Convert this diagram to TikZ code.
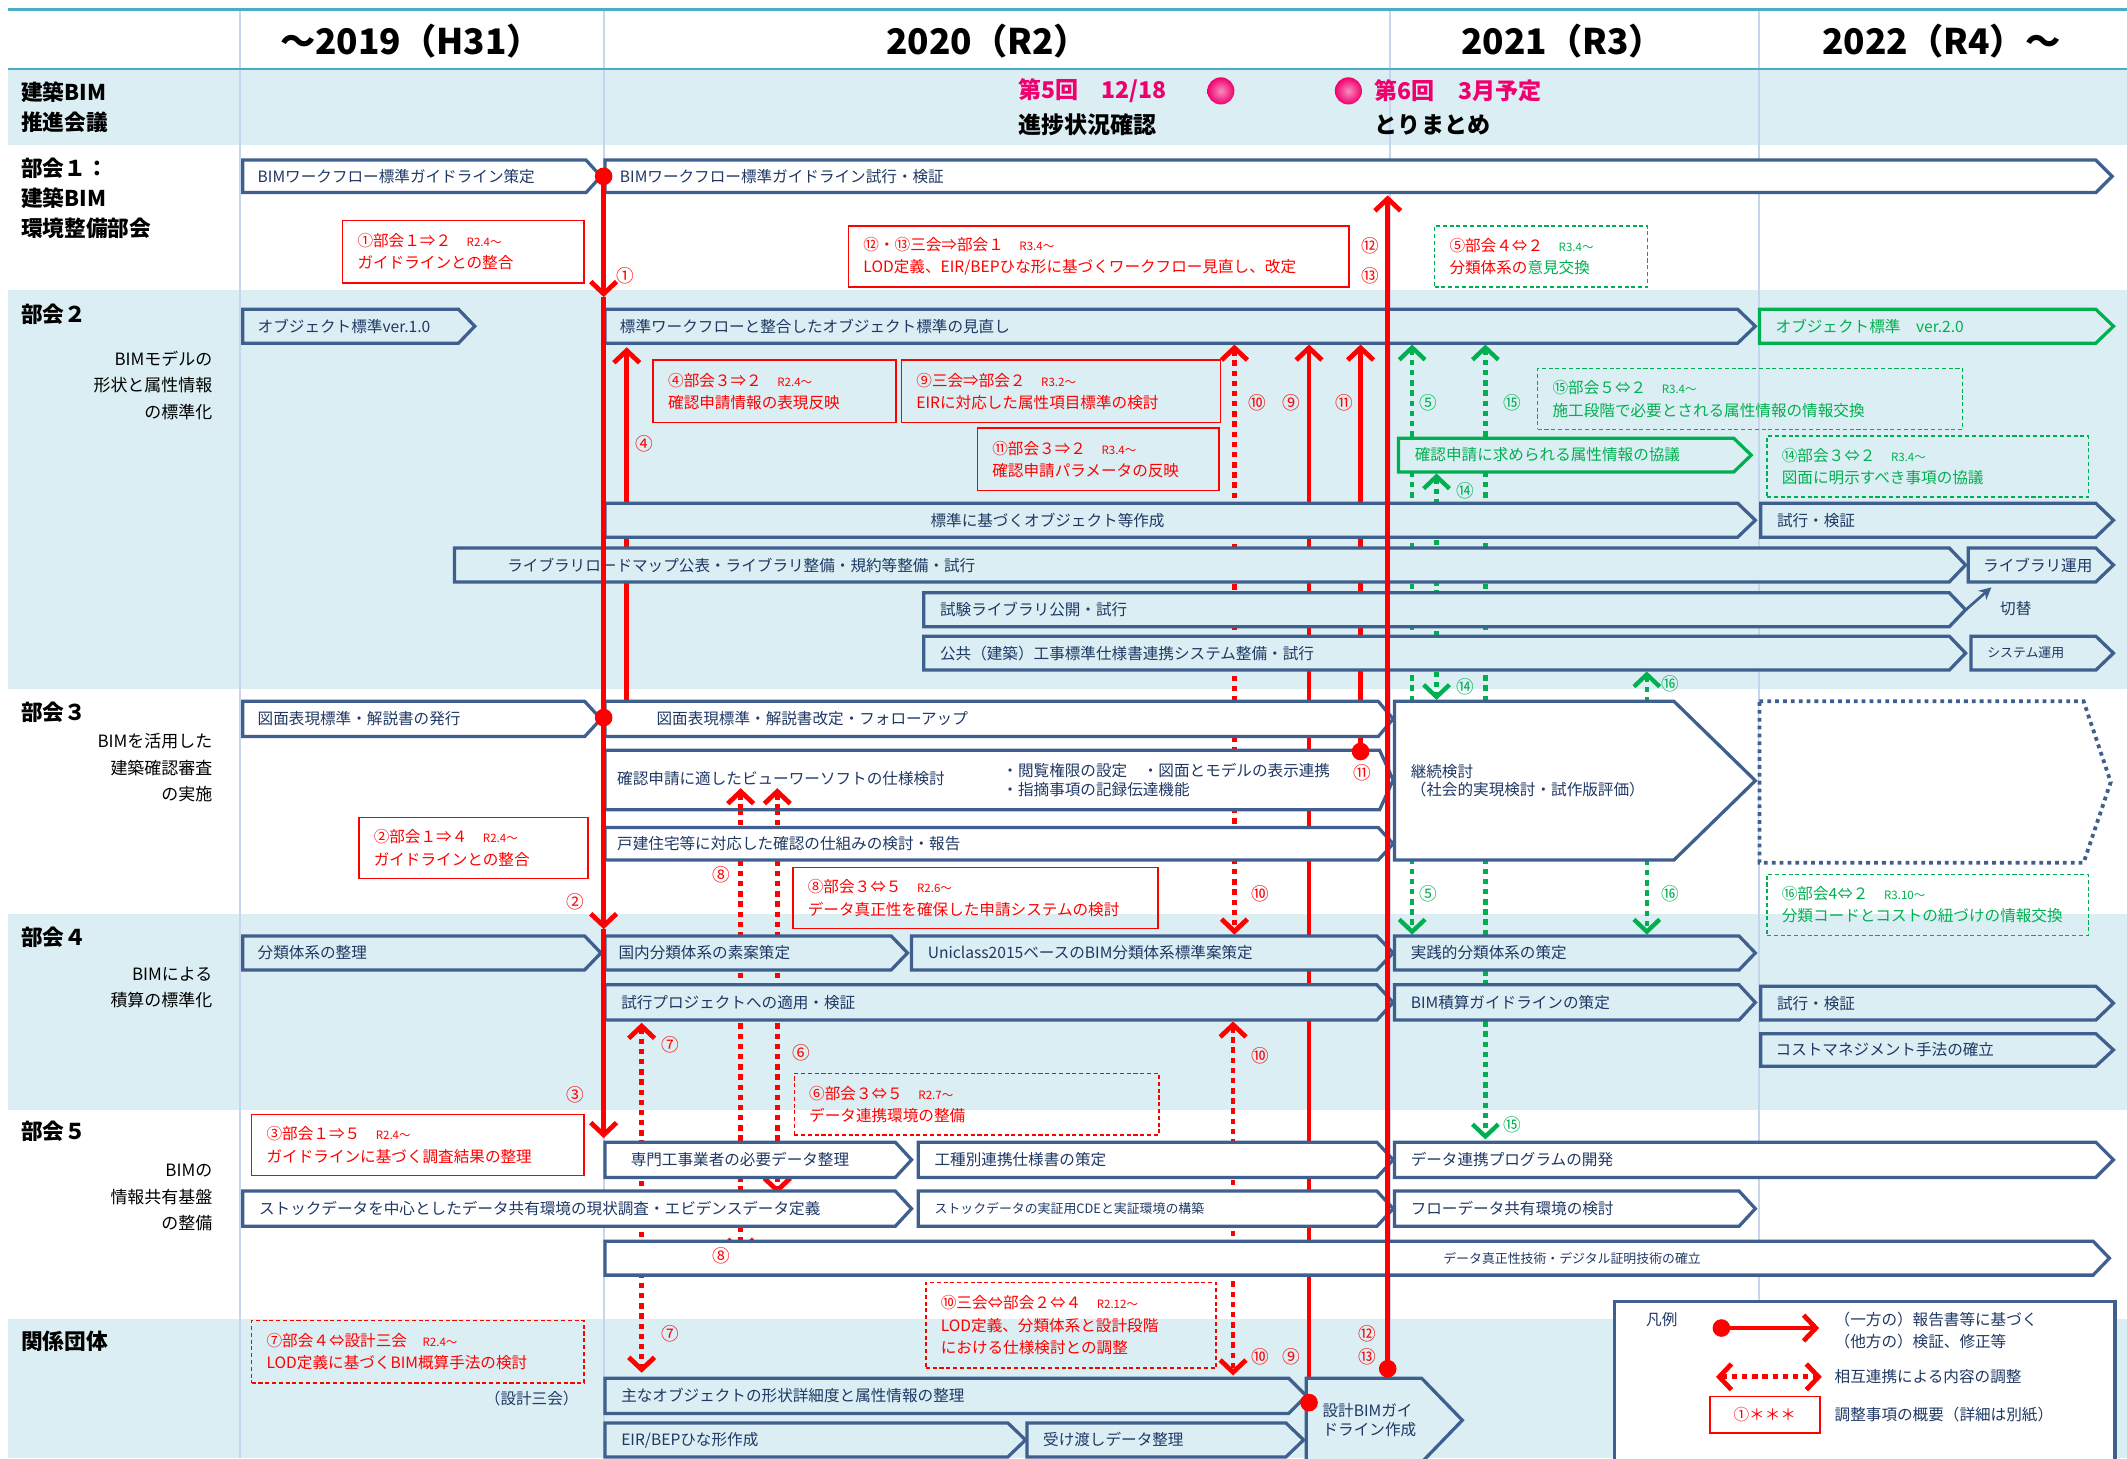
\documentclass[tikz,border=0pt]{standalone}
\usepackage{fontspec}
\setmainfont{Noto Sans CJK JP}
\usepackage{tikz}
\usetikzlibrary{arrows.meta, calc}
\definecolor{bimnavy}{HTML}{3F5F8F}
\definecolor{bimtext}{HTML}{1F3864}
\definecolor{bandblue}{HTML}{DAEEF3}
\definecolor{gridblue}{HTML}{C6D6EC}
\definecolor{headteal}{HTML}{4BACC6}
\definecolor{bimred}{HTML}{FF0000}
\definecolor{bimgreen}{HTML}{00B050}
\definecolor{meetpink}{HTML}{F0006E}

\newcommand{\barfnt}{\fontsize{11.5}{13.5}\selectfont}
\newcommand{\smallfnt}{\fontsize{9.5}{11}\selectfont}
\newcommand{\notefnt}{\fontsize{11.5}{16.5}\selectfont}
\newcommand{\datefnt}{\fontsize{8.5}{9}\selectfont}
\newcommand{\tagfnt}{\fontsize{13}{13}\selectfont}
\newcommand{\yearfnt}{\fontsize{26}{28}\selectfont\bfseries}
\newcommand{\meetfnt}{\fontsize{17}{20}\selectfont\bfseries}
\newcommand{\labfnt}{\fontsize{16}{22}\selectfont\bfseries}
\newcommand{\subfnt}{\fontsize{12.5}{19.5}\selectfont}

% schedule bar: [outline style]{name}{left}{top}{tip x}{bottom}{tip depth}{text indent}{text}
\newcommand{\planbar}[9][]{%
  \pgfmathsetmacro\pbmid{(#4+#6)/2}%
  \pgfmathsetmacro\pbneck{#5-#7}%
  \pgfmathsetmacro\pbw{#5-#3}%
  \pgfmathsetmacro\pbh{#6-#4}%
  \pgfmathsetmacro\pbtw{#5-#3-2*#8}%
  \pgfmathsetmacro\pbcx{(#3+#5)/2}%
  \draw[barline,#1] (#3,#4) -- (\pbneck,#4) -- (#5,\pbmid) -- (\pbneck,#6) -- (#3,#6) -- cycle;
  \node[bartext, minimum width=\pbw pt, minimum height=\pbh pt, text width=\pbtw pt, inner xsep=#8pt] (#2) at (\pbcx,\pbmid) {#9};
}
% coordination note: [style]{name}{left}{top}{right}{bottom}{text}
\newcommand{\plannote}[7][]{%
  \pgfmathsetmacro\pnw{#5-#3}%
  \pgfmathsetmacro\pnh{#6-#4}%
  \pgfmathsetmacro\pntw{#5-#3-22}%
  \node[notebox, #1, minimum width=\pnw pt, minimum height=\pnh pt, text width=\pntw pt] (#2) at (#3,#4) {#7};
}

\begin{document}
\begin{tikzpicture}[x=1pt, y=-1pt,
    barline/.style={draw=bimnavy, line width=2.4pt, fill=bandblue},
    bartext/.style={inner ysep=0pt, font=\barfnt, text=bimtext},
    notebox/.style={anchor=north west, inner xsep=11pt, inner ysep=0pt, font=\notefnt,
                    draw=bimred, text=bimred, line width=1.1pt},
    rdash/.style={dash pattern=on 3pt off 2pt},
    gnote/.style={draw=bimgreen, text=bimgreen, dash pattern=on 3pt off 2pt},
    redline/.style={draw=bimred, line width=3.5pt},
    reddot/.style={redline, dash pattern=on 4pt off 3.5pt},
    greendot/.style={draw=bimgreen, line width=3.2pt, dash pattern=on 4pt off 3.5pt},
    barb/.tip={Straight Barb[length=9pt, width=19pt]},
    rtag/.style={font=\tagfnt, text=bimred, inner sep=0pt},
    gtag/.style={font=\tagfnt, text=bimgreen, inner sep=0pt},
    lab/.style={font=\labfnt, anchor=west, align=left},
    sublab/.style={font=\subfnt, anchor=east, align=right},
]
    \useasboundingbox (0,0) rectangle (1568,1075);

    % Bands
    \fill[bandblue] (6,51) rectangle (1568,107);
    \fill[bandblue] (6,214) rectangle (1568,508);
    \fill[bandblue] (6,674) rectangle (1568,818);
    \fill[bandblue] (6,972) rectangle (1568,1075);
    \foreach \gx in {177,445,1025,1297}
        \draw[gridblue, line width=1.5pt] (\gx,7) -- (\gx,1075);
    \draw[headteal, line width=1.5pt] (6,7) -- (1568,7);
    \draw[headteal, line width=1.5pt] (6,51) -- (1568,51);

    % Years
    \node[font=\yearfnt] (y2019) at (303,30) {～2019（H31）};
    \node[font=\yearfnt] (y2020) at (728,30) {2020（R2）};
    \node[font=\yearfnt] (y2021) at (1152,30) {2021（R3）};
    \node[font=\yearfnt] (y2022) at (1431,30) {2022（R4）～};

    % Row labels
    \node[lab] (lab0) at (12,79) {建築BIM\\推進会議};
    \node[lab] (lab1) at (12,146) {部会１：\\建築BIM\\環境整備部会};
    \node[lab] (lab2) at (12,232) {部会２};
    \node[sublab] (sub2) at (160,284) {BIMモデルの\\形状と属性情報\\の標準化};
    \node[lab] (lab3) at (12,525) {部会３};
    \node[sublab] (sub3) at (160,566) {BIMを活用した\\建築確認審査\\の実施};
    \node[lab] (lab4) at (12,691) {部会４};
    \node[sublab] (sub4) at (160,728) {BIMによる\\積算の標準化};
    \node[lab] (lab5) at (12,834) {部会５};
    \node[sublab] (sub5) at (160,883) {BIMの\\情報共有基盤\\の整備};
    \node[lab] (lab6) at (12,989) {関係団体};

    % Meetings
    \node[font=\meetfnt, text=meetpink, anchor=west] (meet5) at (747,67) {第5回　12/18};
    \node[font=\meetfnt, anchor=west] (meet5s) at (747,92) {進捗状況確認};
    \node[font=\meetfnt, text=meetpink, anchor=west] (meet6) at (1010,67) {第6回　3月予定};
    \node[font=\meetfnt, anchor=west] (meet6s) at (1010,92) {とりまとめ};
    \shade[inner color=meetpink!45!white, outer color=meetpink] (900,67) circle (10pt);
    \shade[inner color=meetpink!45!white, outer color=meetpink] (994,67) circle (10pt);

    % Links drawn under the bars
    \coordinate (t4) at (462,256);   \coordinate (d4) at (445,529);
    \coordinate (a10) at (910,254);  \coordinate (b10) at (910,689);
    \coordinate (c10) at (909,753);  \coordinate (e10) at (909,1014);
    \coordinate (t9) at (965,254);   \coordinate (d9) at (965,1034);
    \coordinate (t11) at (1003,254); \coordinate (d11) at (1003,554);
    \coordinate (t12) at (1023,144); \coordinate (d12) at (1023,1009);
    \coordinate (a5) at (1041,254);  \coordinate (b5) at (1041,689);
    \coordinate (a15) at (1095,254); \coordinate (b15) at (1095,840);
    \coordinate (a14) at (1059,349); \coordinate (b14) at (1059,516);
    \coordinate (a16) at (1214,495); \coordinate (b16) at (1214,689);
    \coordinate (a8) at (546,581);   \coordinate (b8) at (546,925);
    \coordinate (a6) at (573,581);   \coordinate (b6) at (573,880);
    \coordinate (a7) at (473,754);   \coordinate (b7) at (473,1012);
    \draw[redline, -barb] (d4) -| (t4);
    \draw[reddot, barb-barb] (a10) -- (b10);
    \draw[reddot, barb-barb] (c10) -- (e10);
    \draw[redline, -barb] (d9) -- (t9);
    \draw[redline, -barb] (d11) -- (t11);
    \draw[greendot, barb-barb] (a5) -- (b5);
    \draw[greendot, barb-barb] (a15) -- (b15);
    \draw[greendot, barb-barb] (a14) -- (b14);
    \draw[greendot, barb-barb] (a16) -- (b16);
    \draw[reddot, -barb] (546,597) -- (b8);
    \draw[reddot, -barb] (573,597) -- (b6);
    \draw[reddot, barb-barb] (a7) -- (b7);

    % WG1 bars
    \planbar[fill=white]{wfguide}{179}{118}{443}{142}{11}{11}{BIMワークフロー標準ガイドライン策定}
    \planbar[fill=white]{wftrial}{446}{118}{1557}{142}{12}{11}{BIMワークフロー標準ガイドライン試行・検証}

    % WG2 bars
    \planbar{obj1}{179}{228}{350}{253}{12}{11}{オブジェクト標準ver.1.0}
    \planbar{objrev}{446}{228}{1294}{253}{13}{11}{標準ワークフローと整合したオブジェクト標準の見直し}
    \planbar[draw=bimgreen]{obj2}{1297}{228}{1558}{253}{13}{12}{\color{bimgreen}オブジェクト標準　ver.2.0}
    \planbar[draw=bimgreen]{appattr}{1031}{323}{1291}{348}{13}{12}{\color{bimgreen}確認申請に求められる属性情報の協議}
    \planbar{objmake}{446}{371}{1294}{396}{13}{240}{標準に基づくオブジェクト等作成}
    \planbar{trial2}{1298}{371}{1558}{396}{13}{12}{試行・検証}
    \planbar{libmap}{335}{404}{1449}{429}{12}{39}{ライブラリロードマップ公表・ライブラリ整備・規約等整備・試行}
    \planbar{libuse}{1451}{404}{1558}{429}{13}{11}{ライブラリ運用}
    \planbar{libtest}{681}{437}{1449}{462}{12}{12}{試験ライブラリ公開・試行}
    \planbar{specsys}{681}{469}{1449}{494}{12}{12}{公共（建築）工事標準仕様書連携システム整備・試行}
    \planbar{sysuse}{1453}{469}{1558}{494}{13}{12}{\smallfnt システム運用}
    \coordinate (swtip) at (1468,433);
    \draw[bimnavy, line width=2pt, -{Stealth[length=9pt, width=9pt]}] (libtest.east) -- (swtip);
    \node[font=\barfnt, text=bimtext] (switch) at (1486,449) {切替};

    % WG3 bars
    \planbar[fill=white]{draw1}{179}{517}{443}{543}{12}{11}{図面表現標準・解説書の発行}
    \planbar[fill=white]{draw2}{446}{517}{1027}{543}{11}{38}{図面表現標準・解説書改定・フォローアップ}
    \planbar[fill=white]{viewer}{446}{553}{1027}{597}{10}{9}{\makebox[284pt][l]{確認申請に適したビューワーソフトの仕様検討}\parbox[c]{268pt}{・閲覧権限の設定　・図面とモデルの表示連携\\・指摘事項の記録伝達機能}}
    \planbar[fill=white]{house}{446}{610}{1027}{634}{11}{9}{戸建住宅等に対応した確認の仕組みの検討・報告}
    \planbar[fill=white]{cont}{1028}{517}{1294}{634}{60}{12}{継続検討\\（社会的実現検討・試作版評価）}
    \planbar[fill=white, dash pattern=on 2.8pt off 3pt, line width=2.8pt]{future}{1297}{517}{1556}{636}{20}{12}{}

    % WG4 bars
    \planbar{cls0}{179}{690}{443}{715}{12}{11}{分類体系の整理}
    \planbar{cls1}{446}{690}{669}{715}{12}{10}{国内分類体系の素案策定}
    \planbar{cls2}{672}{690}{1027}{715}{12}{12}{Uniclass2015ベースのBIM分類体系標準案策定}
    \planbar{cls3}{1028}{690}{1294}{715}{12}{12}{実践的分類体系の策定}
    \planbar{pilot}{446}{726}{1027}{752}{12}{12}{試行プロジェクトへの適用・検証}
    \planbar{estguide}{1028}{726}{1294}{752}{12}{12}{BIM積算ガイドラインの策定}
    \planbar{trial4}{1298}{727}{1558}{752}{13}{12}{試行・検証}
    \planbar{costmg}{1298}{762}{1558}{786}{13}{11}{コストマネジメント手法の確立}

    % WG5 bars
    \planbar[fill=white]{trade}{446}{842}{672}{868}{12}{19}{専門工事業者の必要データ整理}
    \planbar[fill=white]{tradespec}{677}{842}{1027}{868}{12}{12}{\centering 工種別連携仕様書の策定}
    \planbar[fill=white]{dataprog}{1028}{842}{1558}{868}{13}{12}{\centering データ連携プログラムの開発}
    \planbar[fill=white]{stock}{179}{878}{672}{904}{12}{12}{\centering ストックデータを中心としたデータ共有環境の現状調査・エビデンスデータ定義}
    \planbar[fill=white]{stockcde}{677}{878}{1027}{904}{12}{12}{\centering\smallfnt ストックデータの実証用CDEと実証環境の構築}
    \planbar[fill=white]{flow}{1028}{878}{1294}{904}{12}{12}{\centering フローデータ共有環境の検討}
    \planbar[fill=white]{auth}{446}{915}{1555}{940}{12}{618}{\smallfnt データ真正性技術・デジタル証明技術の確立}

    % Related bodies
    \planbar{mainobj}{446}{1016}{963}{1042}{13}{12}{\centering 主なオブジェクトの形状詳細度と属性情報の整理}
    \planbar{eirbep}{446}{1049}{756}{1074}{13}{12}{\centering EIR/BEPひな形作成}
    \planbar{handover}{757}{1049}{961}{1074}{13}{12}{\centering 受け渡しデータ整理}
    \planbar{dguide}{963}{1016}{1078}{1078}{30}{12}{設計BIMガイ\\ドライン作成}
    \node[font=\barfnt, text=bimtext, anchor=east] (sankai) at (430,1031) {（設計三会）};

    % Notes
    \plannote{n1}{252}{162}{430}{208}{①部会１⇒２　{\datefnt R2.4～}\\ガイドラインとの整合}
    \plannote{n12}{625}{166}{994}{211}{⑫・⑬三会⇒部会１　{\datefnt R3.4～}\\LOD定義、EIR/BEPひな形に基づくワークフロー見直し、改定}
    \plannote[gnote]{n5}{1057}{166}{1214}{211}{\textcolor{bimred}{⑤部会４⇔２}　{\datefnt R3.4～}\\\textcolor{bimred}{分類体系の}意見交換}
    \plannote{n4}{481}{265}{660}{311}{④部会３⇒２　{\datefnt R2.4～}\\確認申請情報の表現反映}
    \plannote{n9}{664}{265}{899}{311}{⑨三会⇒部会２　{\datefnt R3.2～}\\EIRに対応した属性項目標準の検討}
    \plannote{n11}{720}{315}{898}{361}{⑪部会３⇒２　{\datefnt R3.4～}\\確認申請パラメータの反映}
    \plannote[gnote]{n15}{1133}{271}{1446}{316}{⑮部会５⇔２　{\datefnt R3.4～}\\施工段階で必要とされる属性情報の情報交換}
    \plannote[gnote]{n14}{1302}{321}{1539}{366}{⑭部会３⇔２　{\datefnt R3.4～}\\図面に明示すべき事項の協議}
    \plannote{n2}{264}{602}{433}{647}{②部会１⇒４　{\datefnt R2.4～}\\ガイドラインとの整合}
    \plannote{n8}{584}{639}{853}{684}{⑧部会３⇔５　{\datefnt R2.6～}\\データ真正性を確保した申請システムの検討}
    \plannote[gnote]{n16}{1302}{644}{1539}{689}{⑯部会4⇔２　{\datefnt R3.10～}\\分類コードとコストの紐づけの情報交換}
    \plannote[rdash]{n6}{585}{791}{854}{836}{⑥部会３⇔５　{\datefnt R2.7～}\\データ連携環境の整備}
    \plannote{n3}{185}{821}{430}{866}{③部会１⇒５　{\datefnt R2.4～}\\ガイドラインに基づく調査結果の整理}
    \plannote[rdash]{n7}{185}{973}{430}{1019}{⑦部会４⇔設計三会　{\datefnt R2.4～}\\LOD定義に基づくBIM概算手法の検討}
    \plannote[rdash]{n10}{682}{945}{896}{1008}{⑩三会⇔部会２⇔４　{\datefnt R2.12～}\\LOD定義、分類体系と設計段階\\における仕様検討との調整}

    % Guideline line of WG1 and links drawn over the bars
    \coordinate (m0) at (445,130);
    \coordinate (m1) at (445,219);
    \coordinate (m2) at (445,685);
    \coordinate (m3) at (445,839);
    \draw[redline, -barb] (m0) -- (m1);
    \draw[redline, -barb] (m1) -- (m2);
    \draw[redline, -barb] (m2) -- (m3);
    \draw[redline, -barb] (d12) -- (t12);
    \draw[reddot, -barb] (546,597) -- (a8);
    \draw[reddot, -barb] (573,597) -- (a6);
    \fill[bimred] (m0) circle (6.5pt);
    \fill[bimred] (d4) circle (6.5pt);
    \fill[bimred] (d11) circle (6.5pt);
    \fill[bimred] (d9) circle (6.5pt);
    \fill[bimred] (d12) circle (6.5pt);

    % Link numbers
    \node[rtag] (g1) at (461,203) {①};
    \node[rtag] (g4) at (475,327) {④};
    \node[rtag] (g2) at (424,665) {②};
    \node[rtag] (g3) at (424,807) {③};
    \node[rtag] (g10a) at (927,297) {⑩};
    \node[rtag] (g9a) at (952,297) {⑨};
    \node[rtag] (g11a) at (991,297) {⑪};
    \node[rtag] (g11b) at (1004,570) {⑪};
    \node[rtag] (g8a) at (532,645) {⑧};
    \node[rtag] (g10b) at (929,659) {⑩};
    \node[rtag] (g7a) at (494,770) {⑦};
    \node[rtag] (g6) at (591,776) {⑥};
    \node[rtag] (g10c) at (929,778) {⑩};
    \node[rtag] (g8b) at (532,926) {⑧};
    \node[rtag] (g7b) at (494,983) {⑦};
    \node[rtag] (g10d) at (929,1000) {⑩};
    \node[rtag] (g9b) at (952,1000) {⑨};
    \node[rtag] (g12b) at (1008,983) {⑫};
    \node[rtag] (g13b) at (1008,1000) {⑬};
    \node[rtag] (g12a) at (1010,181) {⑫};
    \node[rtag] (g13a) at (1010,203) {⑬};
    \node[gtag] (g5a) at (1053,297) {⑤};
    \node[gtag] (g15a) at (1115,297) {⑮};
    \node[gtag] (g14a) at (1080,362) {⑭};
    \node[gtag] (g14b) at (1080,506) {⑭};
    \node[gtag] (g16a) at (1231,504) {⑯};
    \node[gtag] (g5b) at (1053,659) {⑤};
    \node[gtag] (g16b) at (1231,659) {⑯};
    \node[gtag] (g15b) at (1115,829) {⑮};

    % Legend
    \node[draw=bimnavy, line width=2.4pt, fill=white, anchor=north west,
          minimum width=369pt, minimum height=122pt] (legend) at (1189,958) {};
    \node[font=\barfnt, text=bimtext, anchor=west] (lgtitle) at (1210,973) {凡例};
    \coordinate (lga1) at (1269,979);
    \coordinate (lga2) at (1341,979);
    \draw[redline, -barb] (lga1) -- (lga2);
    \fill[bimred] (lga1) circle (6.5pt);
    \node[font=\notefnt, text=bimtext, anchor=west, align=left] (lgtx1) at (1349,981) {（一方の）報告書等に基づく\\（他方の）検証、修正等};
    \coordinate (lgb1) at (1265,1015);
    \coordinate (lgb2) at (1343,1015);
    \draw[reddot, barb-barb] (lgb1) -- (lgb2);
    \node[font=\barfnt, text=bimtext, anchor=west] (lgtx2) at (1349,1015) {相互連携による内容の調整};
    \node[draw=bimred, line width=1.1pt, minimum width=81pt, minimum height=27pt,
          font=\barfnt, text=bimred] (lgnote) at (1301,1043) {①＊＊＊};
    \node[font=\barfnt, text=bimtext, anchor=west] (lgtx3) at (1349,1043) {調整事項の概要（詳細は別紙）};
\end{tikzpicture}
\end{document}
